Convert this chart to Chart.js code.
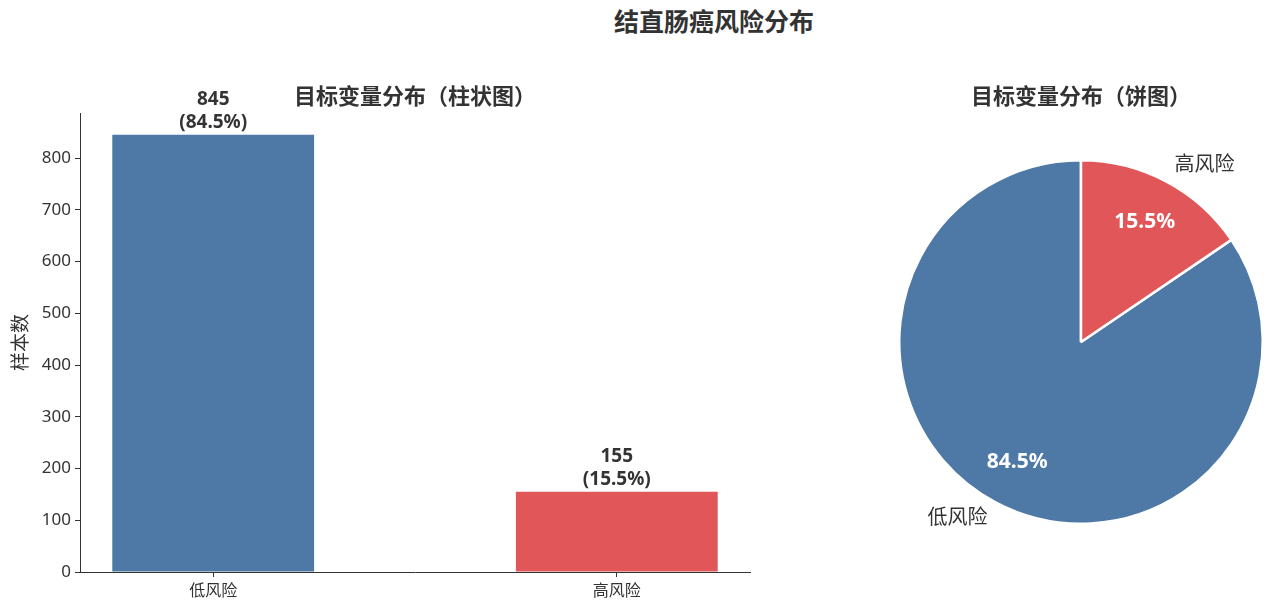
<!DOCTYPE html>
<html>
<head>
<meta charset="utf-8">
<script src="https://cdn.jsdelivr.net/npm/chart.js@4.4.0/dist/chart.umd.min.js"></script>
<style>
  body { margin: 0; background: #fff; width: 1280px; height: 607px; overflow: hidden; position: relative; font-family: "Noto Sans", "Noto Sans CJK SC", sans-serif; }
  #suptitle { position: absolute; left: 514px; width: 400px; top: 2px; text-align: center; font-size: 25px; font-weight: bold; color: #333; }
  #barBox { position: absolute; left: 0; top: 0; width: 770px; height: 607px; }
  #pieBox { position: absolute; left: 770px; top: 0; width: 510px; height: 607px; }
</style>
</head>
<body>
<div id="suptitle">结直肠癌风险分布</div>
<div id="barBox"><canvas id="barChart"></canvas></div>
<div id="pieBox"><canvas id="pieChart"></canvas></div>
<script>
// data
const categories = ['低风险', '高风险'];
const counts = [845, 155];
const colors = ['#4e79a7', '#e15759'];
const yTicks = [0, 100, 200, 300, 400, 500, 600, 700, 800];

const total = counts.reduce((a, b) => a + b, 0);
const pct = counts.map(c => (c / total * 100).toFixed(1) + '%');
const FONT = '"Noto Sans", "Noto Sans CJK SC", sans-serif';
const TXT = '#333';

Chart.defaults.font.family = FONT;
Chart.defaults.color = TXT;

// labels over the bars + subplot title
const barText = {
  id: 'barText',
  afterDatasetsDraw(chart) {
    const c = chart.ctx;
    const meta = chart.getDatasetMeta(0);
    c.save();
    c.fillStyle = TXT;
    c.textAlign = 'center';
    c.font = 'bold 19px ' + FONT;
    meta.data.forEach((bar, i) => {
      c.textBaseline = 'middle';
      c.fillText('(' + pct[i] + ')', bar.x, bar.y - 12);
      c.fillText(String(counts[i]), bar.x, bar.y - 35);
    });
    const a = chart.chartArea;
    c.font = 'bold 22px ' + FONT;
    c.fillText('目标变量分布（柱状图）', (a.left + a.right) / 2, 98);
    c.restore();
  }
};

new Chart(document.getElementById('barChart'), {
  type: 'bar',
  data: {
    datasets: [{
      data: counts.map((v, i) => ({ x: i, y: v })),
      backgroundColor: colors,
      borderWidth: 0,
      barPercentage: 0.5,
      categoryPercentage: 1
    }]
  },
  options: {
    responsive: true,
    maintainAspectRatio: false,
    animation: false,
    layout: { padding: { left: 0, right: 20, top: 113, bottom: 0 } },
    plugins: { legend: { display: false }, tooltip: { enabled: false } },
    scales: {
      x: {
        type: 'linear',
        offset: false,
        min: -0.33,
        max: 1.33,
        afterBuildTicks: s => { s.ticks = categories.map((_, i) => ({ value: i })); },
        afterFit: s => { s.height = 35; },
        ticks: { callback: v => categories[v], font: { size: 16 }, color: TXT, padding: 5 },
        grid: { offset: false, drawOnChartArea: false, tickLength: 5, tickColor: '#333', tickWidth: 1 },
        border: { color: '#333', width: 1 }
      },
      y: {
        min: 0,
        max: 887.25,
        afterBuildTicks: s => { s.ticks = yTicks.map(v => ({ value: v })); },
        afterFit: s => { s.width = 80; },
        ticks: { font: { size: 17 }, color: TXT, padding: 4 },
        grid: { drawOnChartArea: false, tickLength: 5, tickColor: '#333', tickWidth: 1 },
        border: { color: '#333', width: 1 },
        title: { display: true, text: '样本数', font: { size: 19 }, color: TXT, padding: { top: 10, bottom: 0 } }
      }
    }
  },
  plugins: [barText]
});

// pie labels: category outside, percent inside
const pieText = {
  id: 'pieText',
  afterDatasetsDraw(chart) {
    const c = chart.ctx;
    const meta = chart.getDatasetMeta(0);
    c.save();
    meta.data.forEach((arc, i) => {
      const mid = (arc.startAngle + arc.endAngle) / 2;
      const r = arc.outerRadius;
      const cos = Math.cos(mid), sin = Math.sin(mid);
      c.textBaseline = 'middle';
      c.fillStyle = '#fff';
      c.font = 'bold 21px ' + FONT;
      c.textAlign = 'center';
      c.fillText(pct[i], arc.x + cos * r * 0.75, arc.y + sin * r * 0.75);
      c.fillStyle = TXT;
      c.font = '20px ' + FONT;
      c.textAlign = cos >= 0 ? 'left' : 'right';
      c.fillText(categories[i], arc.x + cos * r * 1.1, arc.y + sin * r * 1.1);
    });
    const a = chart.chartArea;
    c.fillStyle = TXT;
    c.font = 'bold 22px ' + FONT;
    c.textAlign = 'center';
    c.textBaseline = 'middle';
    c.fillText('目标变量分布（饼图）', (a.left + a.right) / 2, 98);
    c.restore();
  }
};

new Chart(document.getElementById('pieChart'), {
  type: 'pie',
  data: {
    labels: categories,
    datasets: [{
      data: counts,
      backgroundColor: colors,
      borderColor: '#fff',
      borderWidth: 2.5
    }]
  },
  options: {
    responsive: true,
    maintainAspectRatio: false,
    animation: false,
    rotation: counts[1] / total * 360,
    layout: { padding: { left: 128, right: 16, top: 159, bottom: 82 } },
    plugins: { legend: { display: false }, tooltip: { enabled: false } }
  },
  plugins: [pieText]
});
</script>
</body>
</html>
